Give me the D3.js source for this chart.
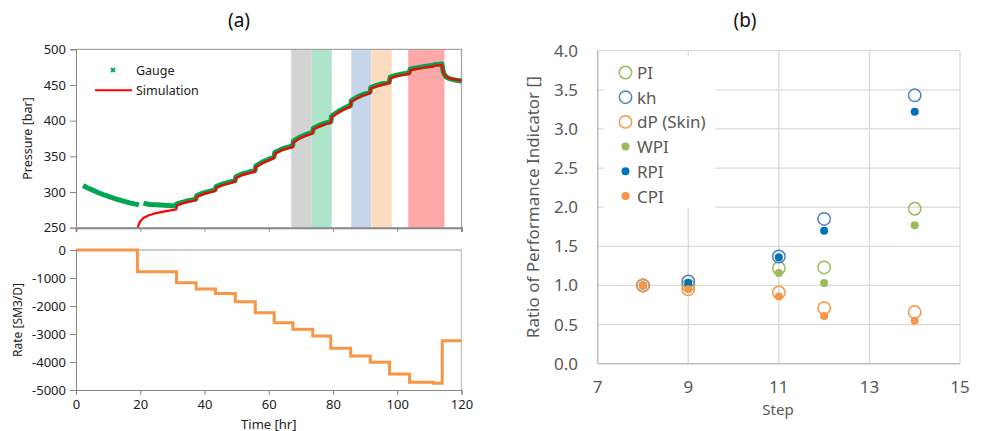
<!DOCTYPE html>
<html>
<head>
<meta charset="utf-8">
<script src="https://cdn.jsdelivr.net/npm/d3@7"></script>
<style>
  body { margin: 0; background: #fff; }
  svg { display: block; font-family: "Noto Sans", sans-serif; }
</style>
</head>
<body>
<div class="vis"></div>
<script>
// ---- panel (a): pressure history ----
const simT = [19.2, 19.5, 20, 21, 22.5, 25, 28, 31.2,
  31.5, 33, 35, 37.3, 37.6, 39.5, 41.5, 43.3, 43.6, 45.5, 47.5, 49.5,
  49.8, 51.8, 53.8, 55.7, 56, 58, 60, 61.6, 61.9, 64, 66, 67.4,
  67.7, 69.5, 71.5, 73.6, 73.9, 75.8, 77.5, 79.3, 79.6, 81.5, 83.5, 85.4,
  85.7, 87.5, 89.5, 91.5, 91.8, 93.5, 95.5, 97.5, 97.8, 99.5, 101.5, 103.7,
  104, 106, 108.5, 111.2, 111.5, 113.9, 114.2, 114.6, 115.3, 116.5, 118, 120];
const simP = [250, 254, 259, 263.5, 267, 270.5, 273.2, 275.5,
  281.5, 284, 286.5, 288.5, 293.5, 297, 299.5, 301.5, 306, 309.5, 312, 314.5,
  320, 324, 326.5, 328.5, 335, 340.5, 344.5, 347.5, 354, 358.5, 361.5, 363,
  370, 375, 379, 382, 388, 392, 395, 397, 405, 411, 416, 419.5,
  426.5, 431.5, 435.5, 438.5, 445, 448, 450.5, 452.5, 459.5, 462, 464, 465.5,
  470.5, 472.5, 474.5, 476, 477, 478, 470, 465, 461.5, 459, 457.5, 456];

// gauge: null marks the gap in the record
const gaugeT = [2.2, 3.5, 5, 7, 9, 11, 13, 15, 17, 19.6, 20.4,
  21, 21.8, 23, 25, 27.5, 30.8, 31.2, 33, 35, 37.3, 37.6, 39.5, 41.5, 43.3,
  43.6, 45.5, 47.5, 49.5, 49.8, 51.8, 53.8, 55.7, 56, 58, 60, 61.6,
  61.9, 64, 66, 67.4, 67.7, 69.5, 71.5, 73.6, 73.9, 75.8, 77.5, 79.3,
  79.6, 81.5, 83.5, 85.4, 85.7, 87.5, 89.5, 91.5, 91.8, 93.5, 95.5, 97.5,
  97.8, 99.5, 101.5, 103.7, 104, 106, 108.5, 111.2, 111.5, 113.9,
  114.2, 114.6, 115.3, 116.5, 118, 120];
const gaugeP = [309, 306, 303, 299, 295.5, 292.5, 289.5, 287, 284.5, 282, null,
  284.5, 283.5, 282.5, 282, 281.3, 280.3, 283, 285.5, 288, 290, 295, 298.5, 301, 303,
  307.5, 311, 313.5, 316, 321.5, 325.5, 328, 330, 336.5, 342, 346, 349,
  355.5, 360, 363, 364.5, 371.5, 376.5, 380.5, 383.5, 389.5, 393.5, 396.5, 398.5,
  406.5, 412.5, 417.5, 421, 428, 433, 437, 440, 446.5, 449.5, 452, 454,
  461, 463.5, 465.5, 467, 472, 474, 476, 477.5, 478.5, 479.5,
  471, 465, 461, 458.5, 457, 455.5];

// shaded time windows [hr]
const bandStart = [67.0, 73.4, 85.7, 92.0, 103.4];
const bandEnd = [73.4, 79.6, 91.9, 98.3, 114.7];
const bandColor = ['#d3d3d3', '#aee4c7', '#c6d5ea', '#fbdcc1', '#fea8a9'];

// rate schedule
const rateT = [0, 19.1, 31.3, 37.4, 43.4, 49.6, 55.8, 61.7, 67.5, 73.7, 79.3,
  85.5, 91.6, 97.6, 103.8, 111.3, 114.0, 120];
const rateQ = [0, -780, -1170, -1390, -1550, -1850, -2240, -2600, -2830, -3070, -3510,
  -3790, -4010, -4430, -4720, -4760, -3240, -3240];

// ---- panel (b): performance indicators ----
const steps = [8, 9, 11, 12, 14];
const PI = [1.0, 1.0, 1.22, 1.23, 1.98];
const kh = [1.0, 1.05, 1.37, 1.85, 3.43];
const dP = [1.0, 0.95, 0.91, 0.71, 0.66];
const WPI = [1.0, 0.99, 1.16, 1.03, 1.77];
const RPI = [1.0, 1.03, 1.36, 1.70, 3.22];
const CPI = [1.0, 0.95, 0.86, 0.61, 0.55];

const series = [
  { name: 'PI', vals: PI, color: '#9bbb59', open: true },
  { name: 'kh', vals: kh, color: '#4f81bd', open: true },
  { name: 'dP (Skin)', vals: dP, color: '#f79646', open: true },
  { name: 'WPI', vals: WPI, color: '#9bbb59', open: false },
  { name: 'RPI', vals: RPI, color: '#0070c0', open: false },
  { name: 'CPI', vals: CPI, color: '#f79646', open: false }
];

const width = 984, height = 431;
const svg = d3.select('.vis').append('svg').attr('width', width).attr('height', height);

// ======== panel (a) ========
const x = d3.scaleLinear().domain([0, 120]).range([76, 461.5]);
const yP = d3.scaleLinear().domain([250, 500]).range([227.7, 49.3]);
const yQ = d3.scaleLinear().domain([-5000, 0]).range([390, 250]);

svg.append('text').attr('x', 239).attr('y', 27).attr('text-anchor', 'middle')
  .attr('font-size', 19).attr('fill', '#111').text('(a)');

const gTop = svg.append('g');
gTop.selectAll('rect.band')
  .data(bandStart)
  .enter().append('rect')
  .attr('x', (d) => x(d))
  .attr('width', (d, i) => x(bandEnd[i]) - x(d))
  .attr('y', yP(500))
  .attr('height', yP(250) - yP(500))
  .attr('fill', (d, i) => bandColor[i]);

// border of the pressure plot
gTop.append('path')
  .attr('d', `M${x(0)},${yP(500)}H${x(120)}V${yP(250)}`)
  .attr('fill', 'none').attr('stroke', '#a6a6a6').attr('stroke-width', 1.3);

const gaugeData = gaugeT.map((t, i) => [t, gaugeP[i]]);
const simData = simT.map((t, i) => [t, simP[i]]);

const pLine = d3.line()
  .defined((d) => d[1] !== null)
  .x((d) => x(d[0]))
  .y((d) => yP(d[1]));

gTop.append('path').attr('d', pLine(gaugeData))
  .attr('fill', 'none').attr('stroke', '#00a651').attr('stroke-width', 5)
  .attr('stroke-linejoin', 'round');
gTop.append('path').attr('d', pLine(simData))
  .attr('fill', 'none').attr('stroke', '#ff0000').attr('stroke-width', 2.2)
  .attr('stroke-linejoin', 'round');

gTop.append('g').attr('transform', `translate(${x(0)},0)`)
  .call(d3.axisLeft(yP).tickValues([250, 300, 350, 400, 450, 500]).tickSize(6).tickPadding(4));
const axPx = gTop.append('g').attr('transform', `translate(0,${yP(250)})`)
  .call(d3.axisBottom(x).tickValues([0, 20, 40, 60, 80, 100, 120]).tickSize(4).tickFormat(''));
axPx.select('.domain').attr('stroke-width', 2);

gTop.append('text')
  .attr('transform', `translate(27,${(yP(250) + yP(500)) / 2}) rotate(-90)`)
  .attr('text-anchor', 'middle').attr('dominant-baseline', 'central')
  .attr('font-size', 12.5).attr('fill', '#222').text('Pressure [bar]');

// legend (a)
gTop.append('path').attr('d', 'M111,68l4,4m0,-4l-4,4')
  .attr('stroke', '#00a651').attr('stroke-width', 1.8);
gTop.append('text').attr('x', 136).attr('y', 70).attr('dominant-baseline', 'central')
  .attr('font-size', 12.5).attr('fill', '#222').text('Gauge');
gTop.append('line').attr('x1', 95).attr('x2', 132).attr('y1', 90.3).attr('y2', 90.3)
  .attr('stroke', '#ff0000').attr('stroke-width', 2);
gTop.append('text').attr('x', 136).attr('y', 90.3).attr('dominant-baseline', 'central')
  .attr('font-size', 12.5).attr('fill', '#222').text('Simulation');

// rate plot
const gBot = svg.append('g');
gBot.append('path')
  .attr('d', `M${x(0)},${yQ(0)}H${x(120)}V${yQ(-5000)}`)
  .attr('fill', 'none').attr('stroke', '#bfbfbf').attr('stroke-width', 1.3);

const rateLine = d3.line()
  .x((d) => x(d[0]))
  .y((d) => yQ(d[1]))
  .curve(d3.curveStepAfter);
gBot.append('path').attr('d', rateLine(rateT.map((t, i) => [t, rateQ[i]])))
  .attr('fill', 'none').attr('stroke', '#f79646').attr('stroke-width', 3);

gBot.append('g').attr('transform', `translate(${x(0)},0)`)
  .call(d3.axisLeft(yQ).tickValues([0, -1000, -2000, -3000, -4000, -5000])
    .tickFormat((d) => String(d)).tickSize(6).tickPadding(4));
gBot.append('g').attr('transform', `translate(0,${yQ(-5000)})`)
  .call(d3.axisBottom(x).tickValues([0, 20, 40, 60, 80, 100, 120]).tickSize(5).tickPadding(5));

gBot.append('text')
  .attr('transform', `translate(17,${(yQ(0) + yQ(-5000)) / 2}) rotate(-90)`)
  .attr('text-anchor', 'middle').attr('dominant-baseline', 'central')
  .attr('font-size', 12).attr('fill', '#222').text('Rate [SM3/D]');
gBot.append('text').attr('x', (x(0) + x(120)) / 2).attr('y', 428.5)
  .attr('text-anchor', 'middle').attr('font-size', 13).attr('fill', '#222').text('Time [hr]');

svg.selectAll('.tick text').attr('font-size', 13).attr('fill', '#222')
  .attr('font-family', '"Noto Sans", sans-serif');
svg.selectAll('.tick line').attr('stroke', '#868686');
svg.selectAll('.domain').attr('stroke', '#868686');

// ======== panel (b) ========
const xs = d3.scaleLinear().domain([7, 15]).range([597.7, 960]);
const yr = d3.scaleLinear().domain([0, 4]).range([363.7, 50.7]);
const gRight = svg.append('g').attr('font-family', '"Noto Sans", sans-serif');

gRight.append('text').attr('x', 745).attr('y', 27).attr('text-anchor', 'middle')
  .attr('font-size', 19).attr('fill', '#111').text('(b)');

const yTicks = d3.range(0, 4.01, 0.5);
const xTicks = [7, 9, 11, 13, 15];
gRight.selectAll('line.hg').data(yTicks.slice(1)).enter().append('line')
  .attr('x1', xs(7)).attr('x2', xs(15))
  .attr('y1', (d) => yr(d)).attr('y2', (d) => yr(d))
  .attr('stroke', '#d9d9d9').attr('stroke-width', 1.3);
gRight.selectAll('line.vg').data(xTicks.slice(1)).enter().append('line')
  .attr('x1', (d) => xs(d)).attr('x2', (d) => xs(d))
  .attr('y1', yr(0)).attr('y2', yr(4))
  .attr('stroke', '#d9d9d9').attr('stroke-width', 1.3);

// legend box hides grid behind it
gRight.append('rect').attr('x', 604).attr('y', 56).attr('width', 111).attr('height', 152)
  .attr('fill', '#fff');

gRight.append('line').attr('x1', xs(7)).attr('x2', xs(7)).attr('y1', yr(0)).attr('y2', yr(4))
  .attr('stroke', '#bfbfbf').attr('stroke-width', 1.5);
gRight.append('line').attr('x1', xs(7)).attr('x2', xs(15)).attr('y1', yr(0)).attr('y2', yr(0))
  .attr('stroke', '#bfbfbf').attr('stroke-width', 1.5);

gRight.selectAll('text.yl').data(yTicks).enter().append('text')
  .attr('x', 578).attr('y', (d) => yr(d) + 6).attr('text-anchor', 'end')
  .attr('font-size', 17).attr('fill', '#595959')
  .text((d) => d3.format('.1f')(d));
gRight.selectAll('text.xl').data(xTicks).enter().append('text')
  .attr('x', (d) => xs(d)).attr('y', 393).attr('text-anchor', 'middle')
  .attr('font-size', 17).attr('fill', '#595959')
  .text((d) => d);

gRight.append('text').attr('x', 778).attr('y', 415).attr('text-anchor', 'middle')
  .attr('font-size', 15).attr('fill', '#595959').text('Step');
gRight.append('text')
  .attr('transform', `translate(532,${(yr(0) + yr(4)) / 2}) rotate(-90)`)
  .attr('text-anchor', 'middle').attr('dominant-baseline', 'central')
  .attr('font-size', 17).attr('fill', '#595959').text('Ratio of Performance Indicator []');

series.forEach((s) => {
  gRight.selectAll(null).data(s.vals).enter().append('circle')
    .attr('cx', (d, i) => xs(steps[i]))
    .attr('cy', (d) => yr(d))
    .attr('r', s.open ? 6.2 : 4)
    .attr('fill', s.open ? 'none' : s.color)
    .attr('stroke', s.open ? s.color : 'none')
    .attr('stroke-width', 1.5);
});

// legend (b)
series.forEach((s, i) => {
  const ly = 72.5 + i * 24.7;
  gRight.append('circle').attr('cx', 625.5).attr('cy', ly)
    .attr('r', s.open ? 6.2 : 4)
    .attr('fill', s.open ? 'none' : s.color)
    .attr('stroke', s.open ? s.color : 'none')
    .attr('stroke-width', 1.5);
  gRight.append('text').attr('x', 637).attr('y', ly).attr('dominant-baseline', 'central')
    .attr('font-size', 17).attr('fill', '#595959').text(s.name);
});
</script>
</body>
</html>
